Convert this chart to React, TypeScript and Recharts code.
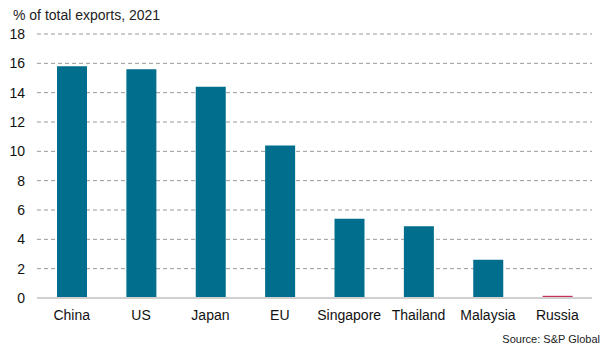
import { BarChart, Bar, XAxis, YAxis, CartesianGrid, Cell } from "recharts";

const categories = ["China", "US", "Japan", "EU", "Singapore", "Thailand", "Malaysia", "Russia"];
const shares = [15.8, 15.6, 14.4, 10.4, 5.4, 4.9, 2.6, 0.15];
const yTicks = [0, 2, 4, 6, 8, 10, 12, 14, 16, 18];

const data = categories.map((name, i) => ({ name, value: shares[i] }));

const font = "'Liberation Sans', Arial, sans-serif";

export default function App() {
  return (
    <div
      style={{
        position: "absolute",
        left: 0,
        top: 0,
        width: 608,
        height: 352,
        background: "#fff",
        fontFamily: font,
      }}
    >
      <div style={{ position: "absolute", left: 13, top: 7, fontSize: 14, color: "#222" }}>
        % of total exports, 2021
      </div>
      <BarChart
        width={608}
        height={352}
        data={data}
        margin={{ top: 34, right: 16, left: 0, bottom: 24 }}
      >
        <CartesianGrid vertical={false} stroke="#999" strokeDasharray="4 3" />
        <XAxis
          dataKey="name"
          tickLine={false}
          axisLine={{ stroke: "#d0d0d0", strokeWidth: 2 }}
          tick={{ fontSize: 14, fill: "#111", fontFamily: font }}
          tickMargin={6}
          height={30}
          interval={0}
        />
        <YAxis
          domain={[0, 18]}
          ticks={yTicks}
          width={37}
          tickLine={false}
          axisLine={false}
          tickMargin={6}
          tick={{ fontSize: 14, fill: "#111", fontFamily: font }}
        />
        <Bar dataKey="value" barSize={30} isAnimationActive={false}>
          {data.map((d) => (
            <Cell key={d.name} fill={d.name === "Russia" ? "#c8325a" : "#006e8c"} />
          ))}
        </Bar>
      </BarChart>
      <div style={{ position: "absolute", right: 8, top: 333, fontSize: 11, color: "#222" }}>
        Source: S&amp;P Global
      </div>
    </div>
  );
}
